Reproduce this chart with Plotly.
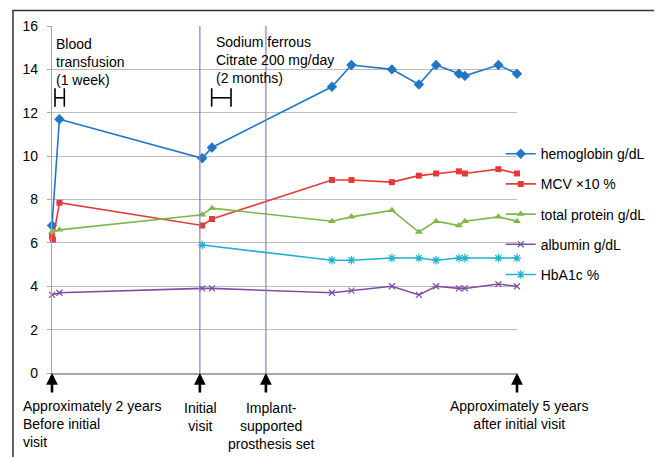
import plotly.graph_objects as go

# ---- data (x = relative time position along the follow-up axis) ----
visit_pos = [0, 1.6, 32.3, 34.4, 60.2, 64.4, 73.1, 78.9, 82.6, 87.5, 88.8, 96.0, 100]
hemoglobin = [6.8, 11.7, 9.9, 10.4, 13.2, 14.2, 14.0, 13.3, 14.2, 13.8, 13.7, 14.2, 13.8]
mcv_pos = [0, 0.2, 1.6, 32.3, 34.4, 60.2, 64.4, 73.1, 78.9, 82.6, 87.5, 88.8, 96.0, 100]
mcv_x10 = [6.3, 6.15, 7.85, 6.8, 7.1, 8.9, 8.9, 8.8, 9.1, 9.2, 9.3, 9.2, 9.4, 9.2]
total_protein = [6.5, 6.6, 7.3, 7.6, 7.0, 7.2, 7.5, 6.5, 7.0, 6.8, 7.0, 7.2, 7.0]
albumin = [3.6, 3.7, 3.9, 3.9, 3.7, 3.8, 4.0, 3.6, 4.0, 3.9, 3.9, 4.1, 4.0]
hba1c_pos = [32.3, 60.2, 64.4, 73.1, 78.9, 82.6, 87.5, 88.8, 96.0, 100]
hba1c = [5.9, 5.2, 5.2, 5.3, 5.3, 5.2, 5.3, 5.3, 5.3, 5.3]

event_pos = [0, 31.8, 46.0, 100]          # arrows under the axis
event_lines = [31.8, 46.0]                 # vertical guide lines
event_labels = ["Approximately 2 years<br>Before initial<br>visit",
                "Initial<br>visit",
                "Implant-<br>supported<br>prosthesis set",
                "Approximately 5 years<br>after initial visit"]
y_ticks = [0, 2, 4, 6, 8, 10, 12, 14, 16]

FONT = "Liberation Sans, Arial, sans-serif"

fig = go.Figure()
series = [
    ("hemoglobin g/dL", visit_pos, hemoglobin, "#2277c4", "diamond", 8, 0),
    ("MCV ×10 %", mcv_pos, mcv_x10, "#e23c3a", "square", 6, 0),
    ("total protein g/dL", visit_pos, total_protein, "#7db849", "triangle-up", 7, 0),
    ("albumin g/dL", visit_pos, albumin, "#7d4ea3", "x-thin", 6, 1.2),
    ("HbA1c %", hba1c_pos, hba1c, "#1fb3cf", "asterisk", 7, 1.2),
]
for i, (name, xs, ys, col, sym, sz, lw) in enumerate(series):
    fig.add_trace(go.Scatter(
        x=xs, y=ys, name=name, mode="lines+markers",
        line=dict(color=col, width=1.6),
        marker=dict(symbol=sym, size=sz, color=col, line=dict(color=col, width=lw)),
        legendgroup=f"g{i}", cliponaxis=False,
    ))

shapes = []
for xv in event_lines:
    shapes.append(dict(type="line", xref="x", yref="y", x0=xv, x1=xv, y0=0, y1=16.1,
                       line=dict(color="#7f7fd6", width=1.2)))
# duration brackets
for (a, b) in [(0.65, 2.65), (34.34, 38.5)]:
    shapes.append(dict(type="line", xref="x", yref="y", x0=a, x1=a, y0=12.28, y1=13.13,
                       line=dict(color="black", width=1.6)))
    shapes.append(dict(type="line", xref="x", yref="y", x0=b, x1=b, y0=12.28, y1=13.13,
                       line=dict(color="black", width=1.6)))
    shapes.append(dict(type="line", xref="x", yref="y", x0=a, x1=b, y0=12.69, y1=12.69,
                       line=dict(color="black", width=1.6)))
# outer frame
shapes.append(dict(type="rect", xref="paper", yref="paper", x0=-0.0839, x1=1.3054,
                   y0=-0.3, y1=1.0447, line=dict(color="#333333", width=1.5),
                   fillcolor="rgba(0,0,0,0)", layer="below"))

annotations = [
    dict(x=0.45, y=14.33, xref="x", yref="y", text="Blood<br>transfusion<br>(1 week)",
         showarrow=False, xanchor="left", yanchor="middle", align="left"),
    dict(x=34.9, y=14.45, xref="x", yref="y", text="Sodium ferrous<br>Citrate 200 mg/day<br>(2 months)",
         showarrow=False, xanchor="left", yanchor="middle", align="left"),
]
for xv in event_pos:
    annotations.append(dict(x=xv, y=0, xref="x", yref="y", text="", showarrow=True,
                            ax=0, ay=21, arrowhead=2, arrowsize=0.9, arrowwidth=2.6,
                            arrowcolor="black", standoff=0))
label_specs = [(-0.066, -0.148, "left", "left"), (0.319, -0.126, "center", "center"),
               (0.472, -0.152, "center", "center"), (1.005, -0.121, "center", "center")]
for (xv, yv, xa, al), txt in zip(label_specs, event_labels):
    annotations.append(dict(x=xv, y=yv, xref="paper", yref="paper", text=txt, showarrow=False,
                            xanchor=xa, yanchor="middle", align=al))

# the page body adds an 8px offset; size and margins compensate for it
fig.update_layout(
    width=654, height=449,
    margin=dict(l=44, r=145, t=18, b=84, autoexpand=False),
    paper_bgcolor="white", plot_bgcolor="white",
    font=dict(family=FONT, size=14, color="black"),
    xaxis=dict(range=[0, 100], showgrid=False, zeroline=False, showticklabels=False,
               showline=True, linecolor="#a6a6a6", linewidth=1.5, ticks=""),
    yaxis=dict(range=[0, 16], tickvals=y_ticks, showgrid=True, gridcolor="#bdbdbd",
               gridwidth=1.3, zeroline=False, showline=True, linecolor="#a6a6a6",
               linewidth=1.3, ticks="outside", ticklen=4, tickcolor="#a6a6a6",
               ticklabelstandoff=6, tickfont=dict(size=14)),
    legend=dict(x=0.965, y=0.677, xanchor="left", yanchor="top", tracegroupgap=9,
                font=dict(size=14), bgcolor="rgba(0,0,0,0)"),
    shapes=shapes, annotations=annotations, showlegend=True,
)
fig.write_html("out.html")
